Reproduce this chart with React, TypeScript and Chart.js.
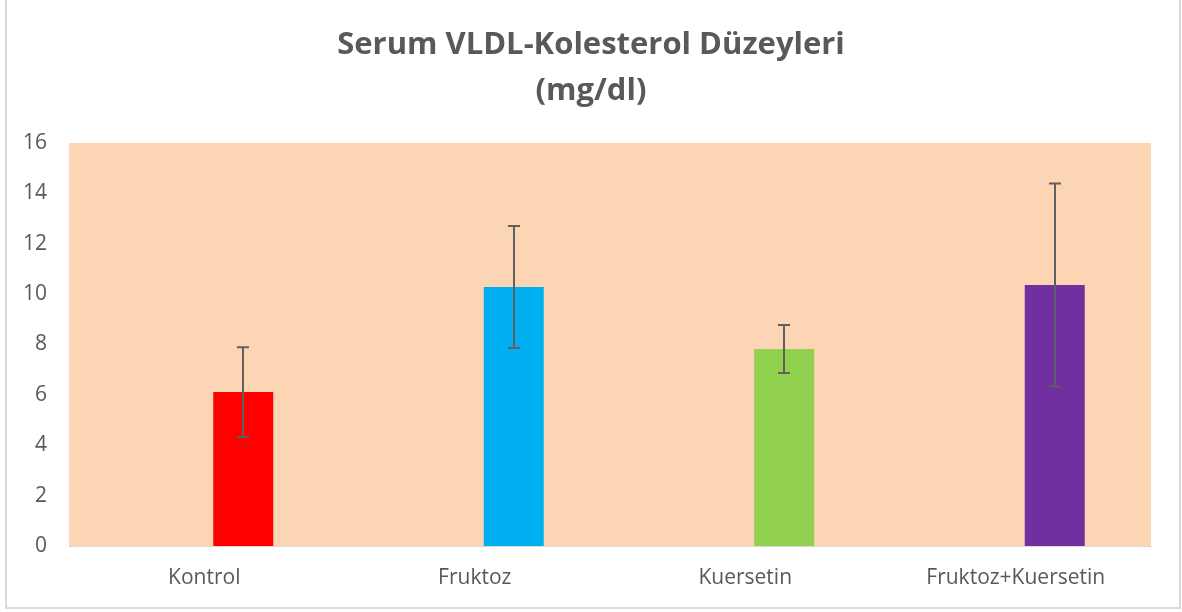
import React, { useEffect, useRef } from "react";
import { Chart, registerables } from "chart.js";

Chart.register(...registerables);

const categories = ["Kontrol", "Fruktoz", "Kuersetin", "Fruktoz+Kuersetin"];
const means = [6.11, 10.28, 7.82, 10.36];
const errors = [1.78, 2.42, 0.95, 4.03];
const barColors = ["#FF0000", "#00B0F0", "#92D050", "#7030A0"];
const titleLines = ["Serum VLDL-Kolesterol Düzeyleri", "(mg/dl)"];
const yMin = 0;
const yMax = 16;
const yStep = 2;

const FONT = "'Open Sans', Lato, sans-serif";
const TEXT = "#595959";

const decorPlugin = {
  id: "decor",
  beforeDraw(chart: any) {
    const { ctx, chartArea, width } = chart;
    ctx.save();
    ctx.fillStyle = "#ffffff";
    ctx.fillRect(0, 0, chart.width, chart.height);
    ctx.strokeStyle = "#d9d9d9";
    ctx.lineWidth = 2;
    ctx.strokeRect(6, -10, 1174, 618);
    ctx.fillStyle = "#FCD5B5";
    ctx.fillRect(chartArea.left, chartArea.top, chartArea.right - chartArea.left, chartArea.bottom - chartArea.top);
    // title
    ctx.fillStyle = TEXT;
    ctx.font = `bold 31px ${FONT}`;
    ctx.textAlign = "center";
    ctx.textBaseline = "middle";
    ctx.fillText(titleLines[0], width / 2, 45);
    ctx.fillText(titleLines[1], width / 2, 91);
    ctx.restore();
  },
  afterDatasetsDraw(chart: any) {
    const { ctx } = chart;
    const meta = chart.getDatasetMeta(1);
    const y = chart.scales.y;
    ctx.save();
    ctx.strokeStyle = "#5f5f5f";
    ctx.lineWidth = 2;
    meta.data.forEach((bar: any, i: number) => {
      const x = Math.round(bar.x);
      const top = y.getPixelForValue(means[i] + errors[i]);
      const bot = y.getPixelForValue(means[i] - errors[i]);
      ctx.beginPath();
      ctx.moveTo(x, top);
      ctx.lineTo(x, bot);
      ctx.moveTo(x - 6, top);
      ctx.lineTo(x + 6, top);
      ctx.moveTo(x - 6, bot);
      ctx.lineTo(x + 6, bot);
      ctx.stroke();
    });
    ctx.restore();
  },
};

export default function App() {
  const ref = useRef<HTMLCanvasElement | null>(null);
  useEffect(() => {
    document.body.style.margin = "0";
    if (!ref.current) return;
    const chart = new Chart(ref.current, {
      type: "bar",
      data: {
        labels: categories,
        datasets: [
          {
            label: "spacer",
            data: categories.map(() => null),
            backgroundColor: "rgba(0,0,0,0)",
          },
          {
            label: "VLDL",
            data: means,
            backgroundColor: barColors,
            borderWidth: 0,
          },
        ],
      },
      options: {
        responsive: false,
        animation: false,
        devicePixelRatio: 1,
        categoryPercentage: 0.5767,
        barPercentage: 0.769,
        layout: { padding: { left: 0, right: 31, top: 143, bottom: 0 } },
        plugins: {
          legend: { display: false },
          title: { display: false },
          tooltip: { enabled: false },
        },
        scales: {
          x: {
            grid: { display: false, drawTicks: false },
            border: { display: true, color: "#d9d9d9", width: 1 },
            ticks: {
              color: TEXT,
              font: { family: FONT, size: 21 },
              padding: 19,
              maxRotation: 0,
            },
            afterFit(scale: any) {
              scale.height = 66;
            },
          },
          y: {
            min: yMin,
            max: yMax,
            grid: { display: false, drawTicks: false },
            border: { display: false },
            ticks: {
              stepSize: yStep,
              color: TEXT,
              font: { family: FONT, size: 21 },
              padding: 22,
            },
            afterFit(scale: any) {
              scale.width = 69;
            },
          },
        },
      },
      plugins: [decorPlugin],
    } as any);
    return () => chart.destroy();
  }, []);
  return (
    <div style={{ position: "absolute", left: 0, top: 0, width: 1182, height: 612 }}>
      <canvas ref={ref} width={1182} height={612} />
    </div>
  );
}
